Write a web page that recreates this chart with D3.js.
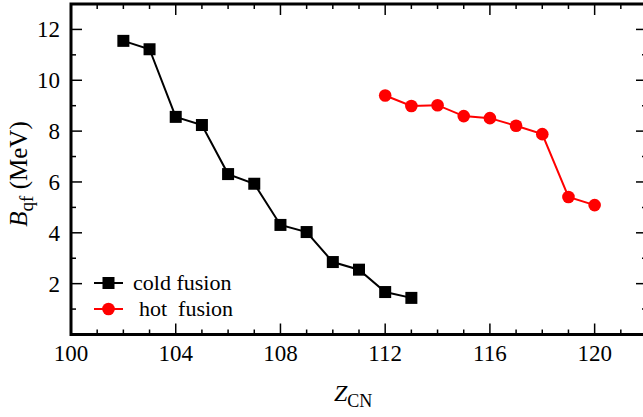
<!DOCTYPE html>
<meta charset="utf-8">
<style>
  body { margin: 0; background: #fff; }
  svg text { font-family: 'Liberation Serif', 'DejaVu Serif', serif; }
  .frame { fill: none; stroke: #000; stroke-width: 3; }
</style>
<body>
<script src="https://d3js.org/d3.v7.min.js"></script>
<script>
// data
var coldZ = [102, 103, 104, 105, 106, 107, 108, 109, 110, 111, 112, 113];
var coldB = [11.55, 11.22, 8.56, 8.24, 6.31, 5.93, 4.31, 4.03, 2.85, 2.55, 1.67, 1.44];
var hotZ = [112, 113, 114, 115, 116, 117, 118, 119, 120];
var hotB = [9.40, 8.99, 9.02, 8.59, 8.51, 8.21, 7.88, 5.41, 5.09];
var xTicks = [100, 104, 108, 112, 116, 120];
var yTicks = [2, 4, 6, 8, 10, 12];

var width = 643, height = 417;
var margin = {top: 4, left: 71};

var x = d3.scaleLinear().domain([100, 122]).range([margin.left, 647]);
var y = d3.scaleLinear().domain([0, 13]).range([334.5, margin.top]);

var svg = d3.select("body").append("svg")
    .attr("width", width)
    .attr("height", height)
    .attr("font-family", "'Liberation Serif', 'DejaVu Serif', serif");

var x0 = x.range()[0], x1 = x.range()[1], y0 = y.range()[0], y1 = y.range()[1];

// ticks, inward on all four sides
var g = svg.append("g");
d3.range(100, 123).forEach(function(v) {
  var len = v % 4 === 0 ? 11 : 5;
  g.append("line").attr("x1", x(v)).attr("x2", x(v)).attr("y1", y0).attr("y2", y0 - len)
    .attr("stroke", "#000").attr("stroke-width", 1.5);
  g.append("line").attr("x1", x(v)).attr("x2", x(v)).attr("y1", y1).attr("y2", y1 + len)
    .attr("stroke", "#000").attr("stroke-width", 1.5);
});
d3.range(0, 14).forEach(function(v) {
  var len = v % 2 === 0 ? 11 : 5;
  g.append("line").attr("x1", x0).attr("x2", x0 + len).attr("y1", y(v)).attr("y2", y(v))
    .attr("stroke", "#000").attr("stroke-width", 1.5);
  g.append("line").attr("x1", x1).attr("x2", x1 - len).attr("y1", y(v)).attr("y2", y(v))
    .attr("stroke", "#000").attr("stroke-width", 1.5);
});

svg.append("rect").attr("class", "frame")
    .attr("x", x0).attr("y", y1)
    .attr("width", x1 - x0).attr("height", y0 - y1);

// tick labels
svg.selectAll(".xl").data(xTicks).enter().append("text")
    .attr("x", function(d) { return x(d); })
    .attr("y", 361)
    .attr("text-anchor", "middle")
    .attr("font-size", 23)
    .text(function(d) { return d; });

svg.selectAll(".yl").data(yTicks).enter().append("text")
    .attr("x", x0 - 11)
    .attr("y", function(d) { return y(d) + 8; })
    .attr("text-anchor", "end")
    .attr("font-size", 23)
    .text(function(d) { return d; });

// axis titles
var xt = svg.append("text").attr("x", 334).attr("y", 401).attr("font-size", 24);
xt.append("tspan").attr("font-style", "italic").text("Z");
xt.append("tspan").attr("dy", 6).attr("font-size", 18).text("CN");

var yt = svg.append("text")
    .attr("transform", "translate(27,174) rotate(-90)")
    .attr("text-anchor", "middle").attr("font-size", 25);
yt.append("tspan").attr("font-style", "italic").text("B");
yt.append("tspan").attr("dy", 6).attr("font-size", 19).text("qf");
yt.append("tspan").attr("dy", -6).text(" (MeV)");

// series
var line = d3.line().x(function(d) { return x(d[0]); }).y(function(d) { return y(d[1]); });
var cold = coldZ.map(function(z, i) { return [z, coldB[i]]; });
var hot = hotZ.map(function(z, i) { return [z, hotB[i]]; });

svg.append("path").datum(cold).attr("d", line)
    .attr("fill", "none").attr("stroke", "#000").attr("stroke-width", 2);
svg.selectAll(".sq").data(cold).enter().append("rect")
    .attr("x", function(d) { return x(d[0]) - 6; })
    .attr("y", function(d) { return y(d[1]) - 6; })
    .attr("width", 12).attr("height", 12).attr("fill", "#000");

svg.append("path").datum(hot).attr("d", line)
    .attr("fill", "none").attr("stroke", "#ff0000").attr("stroke-width", 2);
svg.selectAll(".ci").data(hot).enter().append("circle")
    .attr("cx", function(d) { return x(d[0]); })
    .attr("cy", function(d) { return y(d[1]); })
    .attr("r", 6.3).attr("fill", "#ff0000");

// legend
var lg = svg.append("g");
lg.append("line").attr("x1", 94).attr("x2", 123).attr("y1", 283).attr("y2", 283)
    .attr("stroke", "#000").attr("stroke-width", 2);
lg.append("rect").attr("x", 102.5).attr("y", 277).attr("width", 12).attr("height", 12).attr("fill", "#000");
lg.append("text").attr("x", 133).attr("y", 290).attr("font-size", 22).text("cold fusion");
lg.append("line").attr("x1", 94).attr("x2", 123).attr("y1", 309).attr("y2", 309)
    .attr("stroke", "#ff0000").attr("stroke-width", 2);
lg.append("circle").attr("cx", 108.5).attr("cy", 309).attr("r", 6.3).attr("fill", "#ff0000");
lg.append("text").attr("x", 139).attr("y", 316).attr("font-size", 22).attr("xml:space", "preserve").text("hot  fusion");
</script>
</body>
